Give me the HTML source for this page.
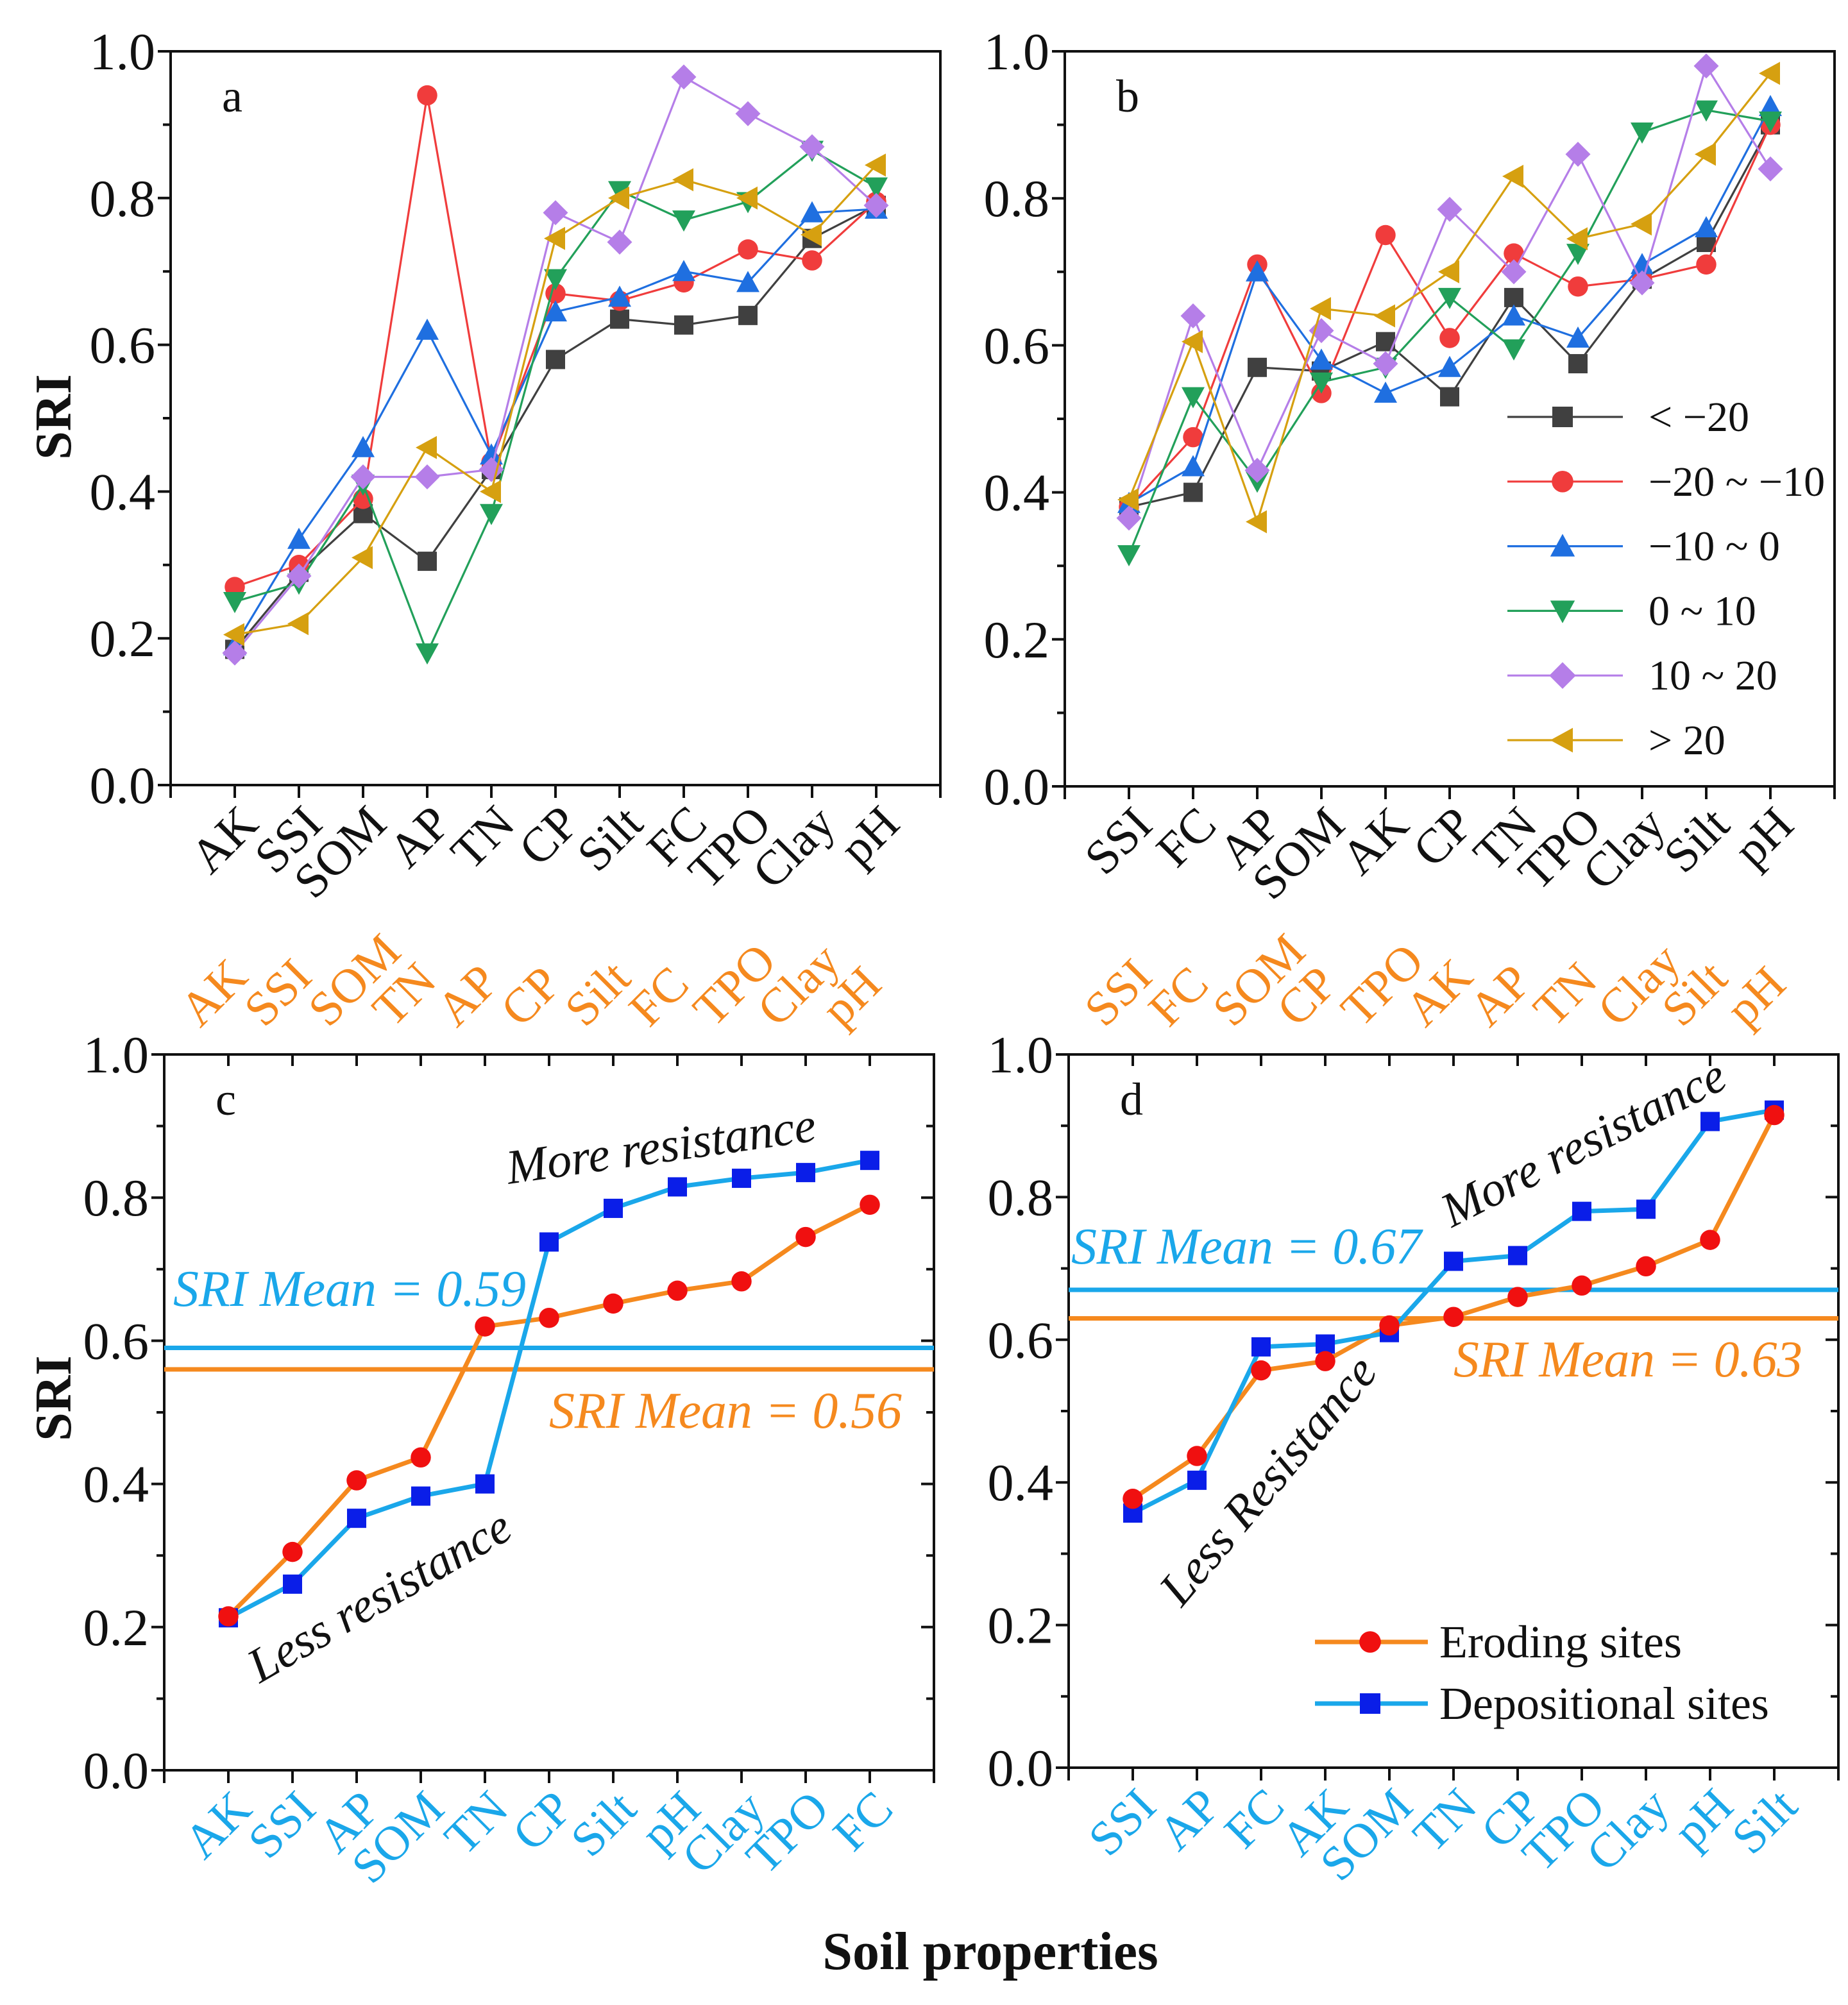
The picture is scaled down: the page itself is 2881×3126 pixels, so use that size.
<!DOCTYPE html>
<html><head><meta charset="utf-8"><style>
html,body{margin:0;padding:0;background:#fff;}
svg, svg text{font-family:"Liberation Serif","DejaVu Serif",serif;}
</style></head><body>
<svg id="fig" width="2881" height="3121" viewBox="0 0 1440.5 1560.5" xmlns="http://www.w3.org/2000/svg">
<rect width="1440.5" height="1560.5" fill="#fff"/>
<g id="root"></g>
</svg>
<script>
// ---------- data ----------
const catsA = ["AK","SSI","SOM","AP","TN","CP","Silt","FC","TPO","Clay","pH"];
const catsB = ["SSI","FC","AP","SOM","AK","CP","TN","TPO","Clay","Silt","pH"];
const seriesNames = ["< \u221220","\u221220 ~ \u221210","\u221210 ~ 0","0 ~ 10","10 ~ 20","> 20"];
const a_lt20   = [0.185,0.29,0.37,0.305,0.43,0.58,0.635,0.627,0.64,0.745,0.79];
const a_m20m10 = [0.27,0.30,0.39,0.94,0.44,0.67,0.66,0.685,0.73,0.715,0.795];
const a_m10_0  = [0.19,0.335,0.46,0.62,0.45,0.645,0.665,0.70,0.685,0.78,0.785];
const a_0_10   = [0.25,0.275,0.41,0.18,0.37,0.69,0.81,0.77,0.795,0.865,0.815];
const a_10_20  = [0.18,0.285,0.42,0.42,0.43,0.78,0.74,0.965,0.915,0.87,0.79];
const a_gt20   = [0.205,0.22,0.31,0.46,0.40,0.745,0.80,0.825,0.80,0.75,0.845];
const b_lt20   = [0.38,0.40,0.57,0.565,0.605,0.53,0.665,0.575,0.69,0.74,0.90];
const b_m20m10 = [0.38,0.475,0.71,0.535,0.75,0.61,0.725,0.68,0.69,0.71,0.90];
const b_m10_0  = [0.385,0.435,0.70,0.58,0.535,0.57,0.64,0.61,0.71,0.76,0.925];
const b_0_10   = [0.315,0.53,0.415,0.55,0.57,0.665,0.595,0.725,0.89,0.92,0.905];
const b_10_20  = [0.365,0.64,0.43,0.62,0.575,0.785,0.70,0.86,0.685,0.98,0.84];
const b_gt20   = [0.39,0.605,0.36,0.65,0.64,0.70,0.83,0.745,0.765,0.86,0.97];
const catsCtop = ["AK","SSI","SOM","TN","AP","CP","Silt","FC","TPO","Clay","pH"];
const catsCbot = ["AK","SSI","AP","SOM","TN","CP","Silt","pH","Clay","TPO","FC"];
const c_eroding = [0.215,0.305,0.405,0.437,0.62,0.632,0.652,0.67,0.683,0.745,0.79];
const c_depo    = [0.213,0.26,0.352,0.383,0.40,0.738,0.785,0.815,0.827,0.835,0.852];
const c_means = [0.59,0.56];
const catsDtop = ["SSI","FC","SOM","CP","TPO","AK","AP","TN","Clay","Silt","pH"];
const catsDbot = ["SSI","AP","FC","AK","SOM","TN","CP","TPO","Clay","pH","Silt"];
const d_eroding = [0.377,0.437,0.557,0.57,0.62,0.632,0.66,0.676,0.703,0.74,0.915];
const d_depo    = [0.357,0.403,0.59,0.594,0.61,0.71,0.718,0.78,0.783,0.906,0.922];
const d_means = [0.67,0.63];
const yTicks = ["0.0","0.2","0.4","0.6","0.8","1.0"];

// ---------- helpers ----------
const NS="http://www.w3.org/2000/svg";
const FONT='"Liberation Serif", "DejaVu Serif", serif';
const root=document.getElementById('root');
function mk(tag,attrs,parent,text){const e=document.createElementNS(NS,tag);for(const k in attrs)e.setAttribute(k,attrs[k]);if(tag==='text')e.setAttribute('font-family',FONT);if(text!==undefined)e.textContent=text;(parent||root).appendChild(e);return e;}
const COLS=["#404040","#f03c3c","#1f6fe0","#22a05a","#b57ee8","#d6a010"];
const SHAPES=["square","circle","tri","tridown","diamond","trileft"];
const ORANGE="#f5891e", CYAN="#1aa7ea";

function marker(g,shape,x,y,col,s){
  let e;
  if(shape==="square") e=mk('rect',{x:x-s,y:y-s,width:2*s,height:2*s,fill:col},g);
  else if(shape==="circle") e=mk('circle',{cx:x,cy:y,r:s*1.05,fill:col},g);
  else if(shape==="tri") e=mk('polygon',{points:`${x},${y-s*1.2} ${x-s*1.2},${y+s} ${x+s*1.2},${y+s}`,fill:col},g);
  else if(shape==="tridown") e=mk('polygon',{points:`${x},${y+s*1.2} ${x-s*1.2},${y-s} ${x+s*1.2},${y-s}`,fill:col},g);
  else if(shape==="diamond") e=mk('polygon',{points:`${x},${y-s*1.3} ${x+s*1.3},${y} ${x},${y+s*1.3} ${x-s*1.3},${y}`,fill:col},g);
  else e=mk('polygon',{points:`${x-s*1.2},${y} ${x+s},${y-s*1.2} ${x+s},${y+s*1.2}`,fill:col},g);
  
  
  return e;
}

function panel(id,L,R,T,B,opts){
  const g=mk('g',{},root);
  
  
  const xs=i=>L+(R-L)/12*(i+1);
  const ys=v=>B-(B-T)*v;
  mk('rect',{x:L,y:T,width:R-L,height:B-T,fill:'none',stroke:'#111','stroke-width':2},g);
  for(let k=0;k<=10;k++){
    const y=ys(k/10), len=k%2===0?10:6;
    mk('line',{x1:L-len,x2:L,y1:y,y2:y,stroke:'#111','stroke-width':2},g);
    if(opts.rightTicks) mk('line',{x1:R-len,x2:R,y1:y,y2:y,stroke:'#111','stroke-width':2},g);
  }
  yTicks.forEach((t,k)=>{
    const e=mk('text',{x:L-12,y:ys(k*0.2)+14,'text-anchor':'end','font-size':41,fill:'#111'},g,t);
    
    
  });
  for(let i=-1;i<=11;i++){
    const x=xs(i);
    mk('line',{x1:x,x2:x,y1:B,y2:B+10,stroke:'#111','stroke-width':2},g);
    if(opts.topTicks) mk('line',{x1:x,x2:x,y1:T,y2:T+9,stroke:'#111','stroke-width':2},g);
  }
  opts.bottomCats.forEach((c,i)=>{
    const x=xs(i)+20, y=B+32;
    const e=mk('text',{x:x,y:y,'text-anchor':'end','font-size':38,fill:opts.bottomColor,transform:`rotate(-45 ${x} ${y})`},g,c);
    
    
  });
  if(opts.topCats) opts.topCats.forEach((c,i)=>{
    const x=xs(i)-22, y=T-20;
    const e=mk('text',{x:x,y:y,'text-anchor':'start','font-size':38,fill:ORANGE,transform:`rotate(-45 ${x} ${y})`},g,c);
    
    
  });
  const lt=mk('text',{x:L+40,y:T+47,'font-size':36,fill:'#111'},g,id);
  
  
  return {g,xs,ys};
}

function drawSeries(p,vals,col,shape,s,w){
  const pts=vals.map((v,i)=>`${p.xs(i)},${p.ys(v)}`).join(' ');
  const l=mk('polyline',{points:pts,fill:'none',stroke:col,'stroke-width':w},p.g);
  
  
  vals.forEach((v,i)=>marker(p.g,shape,p.xs(i),p.ys(v),col,s));
}

// ---------- panel a ----------
const pa=panel('a',133,733,40,612,{bottomCats:catsA,bottomColor:'#111'});
[a_lt20,a_m20m10,a_m10_0,a_0_10,a_10_20,a_gt20].forEach((d,k)=>drawSeries(pa,d,COLS[k],SHAPES[k],7.5,1.6));
// ---------- panel b ----------
const pb=panel('b',830,1430,40,613,{bottomCats:catsB,bottomColor:'#111'});
[b_lt20,b_m20m10,b_m10_0,b_0_10,b_10_20,b_gt20].forEach((d,k)=>drawSeries(pb,d,COLS[k],SHAPES[k],7.5,1.6));
seriesNames.forEach((n,k)=>{
  const y=325+k*50.4;
  const lg=mk('g',{},pb.g);
  
  
  mk('line',{x1:1175,x2:1265,y1:y,y2:y,stroke:COLS[k],'stroke-width':1.6},lg);
  marker(lg,SHAPES[k],1218,y,COLS[k],8);
  mk('text',{x:1285,y:y+11,'font-size':33,fill:'#111'},lg,n);
});

function meanLines(p,means,L,R){
  const l1=mk('line',{x1:L,x2:R,y1:p.ys(means[0]),y2:p.ys(means[0]),stroke:CYAN,'stroke-width':3.5},p.g);
  
  
  const l2=mk('line',{x1:L,x2:R,y1:p.ys(means[1]),y2:p.ys(means[1]),stroke:ORANGE,'stroke-width':3.5},p.g);
  
  
}
function drawPair(p,ero,dep){
  const el=mk('polyline',{points:ero.map((v,i)=>`${p.xs(i)},${p.ys(v)}`).join(' '),fill:'none',stroke:ORANGE,'stroke-width':3.5},p.g);
  
  
  const dl=mk('polyline',{points:dep.map((v,i)=>`${p.xs(i)},${p.ys(v)}`).join(' '),fill:'none',stroke:CYAN,'stroke-width':3.5},p.g);
  
  
  dep.forEach((v,i)=>marker(p.g,'square',p.xs(i),p.ys(v),'#0a1ee8',7.5));
  ero.forEach((v,i)=>marker(p.g,'circle',p.xs(i),p.ys(v),'#f01010',7.5));
}
function txt(x,y,s,opt,name){
  const e=mk('text',Object.assign({x:x,y:y,'font-size':40,fill:'#111'},opt),root,s);
  
  
  return e;
}

// ---------- panel c ----------
const pc=panel('c',128,728,822,1380,{bottomCats:catsCbot,bottomColor:CYAN,topCats:catsCtop,rightTicks:true,topTicks:true});
meanLines(pc,c_means,128,728);
drawPair(pc,c_eroding,c_depo);
txt(135,1018,'SRI Mean = 0.59',{fill:CYAN,'font-style':'italic',textLength:275},'depositional-mean-label');
txt(428,1113,'SRI Mean = 0.56',{fill:ORANGE,'font-style':'italic',textLength:275},'eroding-mean-label');
txt(517,906,'More resistance',{'text-anchor':'middle','font-style':'italic','font-size':38,transform:'rotate(-8 517 906)'},'more-resistance-note');
txt(302,1255,'Less resistance',{'text-anchor':'middle','font-style':'italic','font-size':38,transform:'rotate(-30 302 1255)'},'less-resistance-note');

// ---------- panel d ----------
const pd=panel('d',833,1433,822,1378,{bottomCats:catsDbot,bottomColor:CYAN,topCats:catsDtop,rightTicks:true,topTicks:true});
meanLines(pd,d_means,833,1433);
drawPair(pd,d_eroding,d_depo);
txt(835,985,'SRI Mean = 0.67',{fill:CYAN,'font-style':'italic',textLength:273},'depositional-mean-label');
txt(1133,1073,'SRI Mean = 0.63',{fill:ORANGE,'font-style':'italic',textLength:272},'eroding-mean-label');
txt(1240,902,'More resistance',{'text-anchor':'middle','font-style':'italic','font-size':38,transform:'rotate(-27 1240 902)'},'more-resistance-note');
txt(998,1162,'Less Resistance',{'text-anchor':'middle','font-style':'italic','font-size':38,transform:'rotate(-50 998 1162)'},'less-resistance-note');
[["Eroding sites",ORANGE,'circle','#f01010',1280],["Depositional sites",CYAN,'square','#0a1ee8',1328]].forEach(r=>{
  const lg=mk('g',{},pd.g);
  
  
  mk('line',{x1:1025,x2:1113,y1:r[4],y2:r[4],stroke:r[1],'stroke-width':3.5},lg);
  marker(lg,r[2],1068,r[4],r[3],8);
  mk('text',{x:1122,y:r[4]+12,'font-size':36,fill:'#111'},lg,r[0]);
});

txt(55,325,'SRI',{'font-weight':'bold','font-size':40,'text-anchor':'middle',transform:'rotate(-90 55 325)'},'y-axis-title-top');
txt(55,1090,'SRI',{'font-weight':'bold','font-size':40,'text-anchor':'middle',transform:'rotate(-90 55 1090)'},'y-axis-title-bottom');
txt(772,1535,'Soil properties',{'font-weight':'bold','font-size':42,'text-anchor':'middle'},'x-axis-title');
</script>
</body></html>
